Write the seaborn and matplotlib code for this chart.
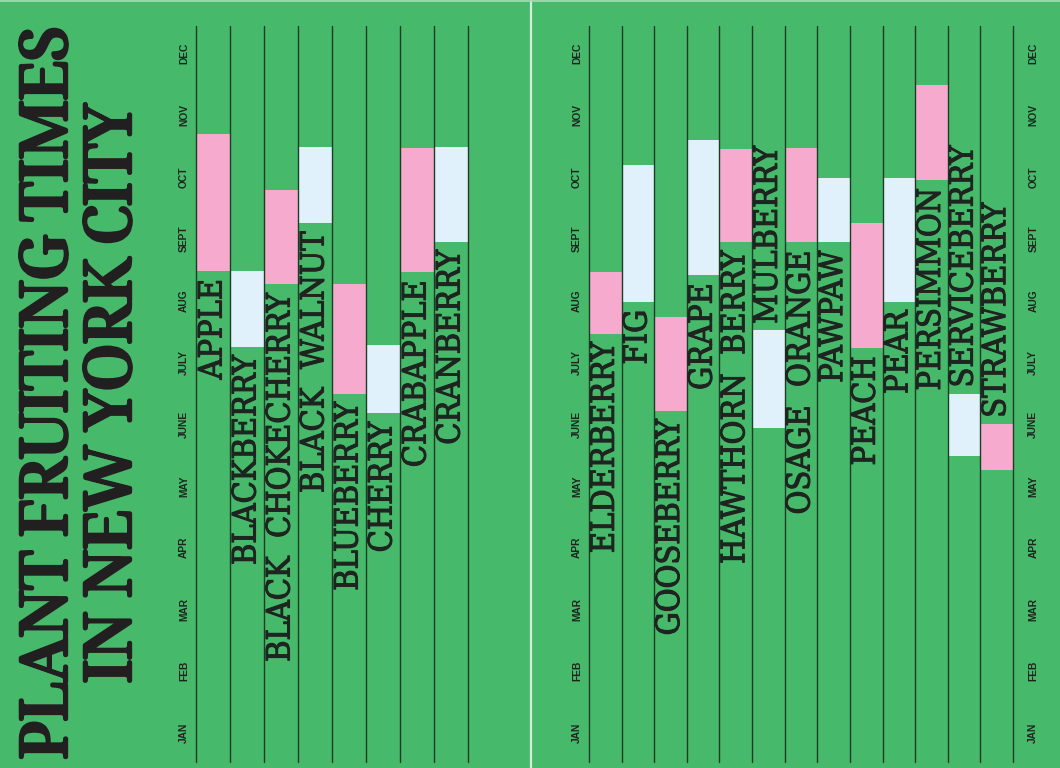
import matplotlib
matplotlib.use("Agg")
import matplotlib.pyplot as plt
import matplotlib.patheffects as pe
import seaborn as sns
import numpy as np
from matplotlib.lines import Line2D

# months run bottom (JAN) to top (DEC); values are month positions, JAN = 0
months = ["JAN", "FEB", "MAR", "APR", "MAY", "JUNE", "JULY", "AUG", "SEPT", "OCT", "NOV", "DEC"]

left_plants = ["APPLE", "BLACKBERRY", "BLACK  CHOKECHERRY", "BLACK  WALNUT",
               "BLUEBERRY", "CHERRY", "CRABAPPLE", "CRANBERRY"]
left_start = [7.48, 6.25, 7.26, 8.25, 5.49, 5.17, 7.46, 7.95]
left_end = [9.70, 7.48, 8.78, 9.49, 7.26, 6.28, 9.47, 9.49]
left_label_above = [False] * 8

right_plants = ["ELDERBERRY", "FIG", "GOOSEBERRY", "GRAPE", "HAWTHORN  BERRY", "MULBERRY",
                "OSAGE  ORANGE", "PAWPAW", "PEACH", "PEAR", "PERSIMMON", "SERVICEBERRY", "STRAWBERRY"]
right_start = [6.46, 6.98, 5.21, 7.41, 7.94, 4.94, 7.94, 7.94, 6.23, 6.97, 8.95, 4.48, 4.26]
right_end = [7.46, 9.19, 6.73, 9.60, 9.45, 6.52, 9.47, 8.98, 8.25, 8.98, 10.49, 5.49, 5.00]
right_label_above = [False, False, False, False, False, True, False, False, False, False, False, True, True]

GREEN = "#47b96a"
PINK = "#f6aacd"
ICE = "#e1f1fb"
LINE = "#1c3d25"
INK = "#1e2420"

sns.set_theme(style="white")
plt.rcParams["font.family"] = ["DejaVu Sans"]

fig = plt.figure(figsize=(10.6, 7.68), dpi=100, facecolor=GREEN)
W, H = 1060, 768

def px_axes(x0, x1, y0, y1):
    return fig.add_axes([x0 / W, 1 - y1 / H, (x1 - x0) / W, (y1 - y0) / H])

ax_l = px_axes(196, 468, 26, 762)
ax_r = px_axes(589, 1013, 26, 762)

label_texts = []
label_fx = [pe.withStroke(linewidth=0.8, foreground=INK)]

def draw_panel(ax, plants, start, end, above, pad_left, right_pad=None):
    start = np.array(start)
    dur = np.array(end) - start
    sns.barplot(x=plants, y=dur, order=plants, bottom=start, width=1.0, color=PINK,
                saturation=1, errorbar=None, linewidth=0, ax=ax)
    for i, p in enumerate(ax.patches):
        p.set_facecolor(PINK if i % 2 == 0 else ICE)
        p.set_zorder(1)
    n = len(plants)
    for i in range(n + 1):
        ax.axvline(i - 0.5, color=LINE, lw=1.0, zorder=3, clip_on=False)
    for i, name in enumerate(plants):
        if above[i]:
            y, va = end[i] + 0.1, "bottom"
        else:
            y, va = start[i] - 0.13, "top"
        t = ax.text(i, y, name, rotation=90, ha="center", va=va,
                    color=INK, fontsize=20, family=["DejaVu Serif"], fontstretch="condensed",
                    path_effects=label_fx, zorder=4)
        label_texts.append(t)
    ax.set_xlim(-0.5, n - 0.5)
    ax.set_ylim(-0.47, 11.44)
    ax.set_facecolor("none")
    ax.set_xticks([])
    ax.set_xlabel("")
    ax.set_ylabel("")
    for s in ax.spines.values():
        s.set_visible(False)
    ax.set_yticks(range(12))
    ax.set_yticklabels(months, rotation=90, va="center", fontsize=7.4,
                       fontweight="bold", family="Liberation Sans", color=INK)
    ax.tick_params(axis="y", length=0, pad=pad_left)
    if right_pad is not None:
        tw = ax.twinx()
        tw.set_ylim(ax.get_ylim())
        tw.set_yticks(range(12))
        tw.set_yticklabels(months, rotation=90, va="center", fontsize=7.4,
                           fontweight="bold", family="Liberation Sans", color=INK)
        tw.tick_params(axis="y", length=0, pad=right_pad)
        tw.set_facecolor("none")
        for s in tw.spines.values():
            s.set_visible(False)

draw_panel(ax_l, left_plants, left_start, left_end, left_label_above, pad_left=5.0)
draw_panel(ax_r, right_plants, right_start, right_end, right_label_above, pad_left=5.0, right_pad=11.0)

# title, two centred lines set sideways
title_kw = dict(rotation=90, ha="center", va="center", color="#221f20",
                family=["Noto Serif Display", "DejaVu Serif"], fontweight="black",
                fontstretch="extra-condensed", fontsize=50,
                path_effects=[pe.withStroke(linewidth=3.2, foreground="#221f20")])
t1 = fig.text(49 / W, 1 - 393 / H, "PLANT FRUITING TIMES", **title_kw)
t2 = fig.text(113 / W, 1 - 394 / H, "IN NEW YORK CITY", **title_kw)

# panel divider and top edge
fig.add_artist(Line2D([531 / W, 531 / W], [0, 1], color="#d4ecd9", lw=1.6))
fig.add_artist(Line2D([0, 1], [1 - 0.8 / H, 1 - 0.8 / H], color="#a9dcb6", lw=1.2))

# size the serif texts to the lengths they have in the poster
fig.canvas.draw()
r = fig.canvas.get_renderer()
s = t1.get_fontsize() * 733 / t1.get_window_extent(r).height
t1.set_fontsize(s)
t2.set_fontsize(s)
ref = label_texts[len(left_plants)]  # ELDERBERRY
ls = ref.get_fontsize() * 211 / ref.get_window_extent(r).height
for t in label_texts:
    t.set_fontsize(ls)

fig.savefig("out.png", dpi=100, facecolor=GREEN)
